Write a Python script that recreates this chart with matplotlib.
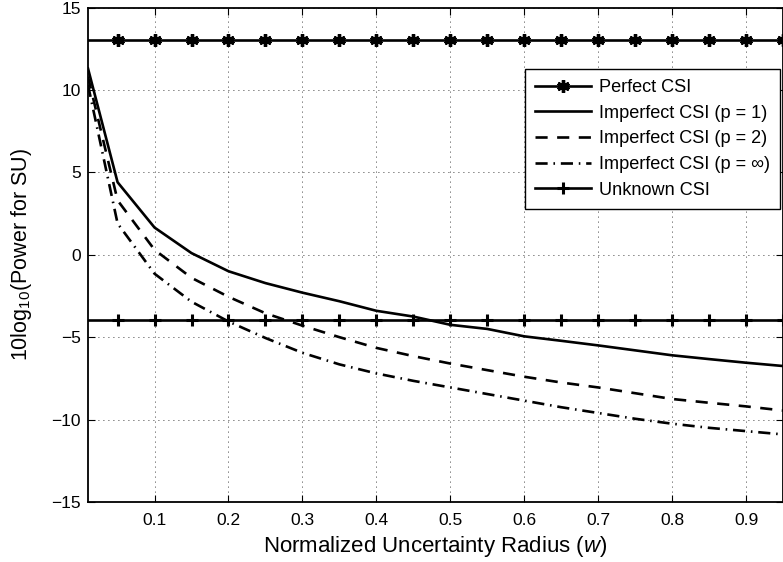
import matplotlib
matplotlib.use("Agg")
import matplotlib.pyplot as plt

plt.rcParams['font.family'] = ['Liberation Sans', 'DejaVu Sans']
plt.rcParams['mathtext.fontset'] = 'custom'
plt.rcParams['mathtext.rm'] = 'Liberation Sans'
plt.rcParams['mathtext.it'] = 'Liberation Sans:italic'

# Data
w = [0.01, 0.05, 0.1, 0.15, 0.2, 0.25, 0.3, 0.35, 0.4, 0.45, 0.5,
     0.55, 0.6, 0.65, 0.7, 0.75, 0.8, 0.85, 0.9, 0.95]
perfect = [13.0] * len(w)
unknown = [-3.95] * len(w)
p1 = [11.3, 4.4, 1.65, 0.1, -1.0, -1.72, -2.3, -2.82, -3.4, -3.75, -4.25,
      -4.5, -4.95, -5.22, -5.5, -5.8, -6.1, -6.33, -6.55, -6.75]
p2 = [10.8, 3.3, 0.3, -1.4, -2.55, -3.55, -4.3, -5.0, -5.65, -6.15, -6.6,
      -7.0, -7.4, -7.75, -8.05, -8.4, -8.75, -8.98, -9.2, -9.45]
pinf = [10.3, 1.9, -1.15, -2.85, -4.05, -5.05, -5.95, -6.65, -7.2, -7.65, -8.05,
        -8.45, -8.85, -9.25, -9.6, -9.95, -10.25, -10.5, -10.7, -10.9]

xticks = [0.1, 0.2, 0.3, 0.4, 0.5, 0.6, 0.7, 0.8, 0.9]
yticks = [-15, -10, -5, 0, 5, 10, 15]

fig = plt.figure(figsize=(7.83, 5.62), dpi=100)
ax = fig.add_axes([88/783, 1 - 502/562, 1 - 88/783, (502 - 7.5)/562])

lw = 1.9
ax.plot(w, perfect, color='black', lw=lw, marker=(6, 2, 0), markersize=9,
        markeredgewidth=2.4, markevery=slice(1, None), label='Perfect CSI')
ax.plot(w, p1, color='black', lw=lw, ls='-', label='Imperfect CSI (p = 1)')
ax.plot(w, p2, color='black', lw=lw, ls=(0, (4.6, 3.6)), label='Imperfect CSI (p = 2)')
ax.plot(w, pinf, color='black', lw=lw, ls=(0, (4.6, 2.2, 0.6, 2.2)), label='Imperfect CSI (p = ∞)')
ax.plot(w, unknown, color='black', lw=lw, marker='+', markersize=9,
        markeredgewidth=2.2, markevery=slice(1, None), label='Unknown CSI')

ax.set_xlim(0.01, 0.95)
ax.set_ylim(-15, 15)
ax.set_xticks(xticks)
ax.set_yticks(yticks)
ax.set_xticklabels([f'{t:.1f}' for t in xticks])
ax.grid(True, color='black', ls=(0, (1, 5)), lw=0.6)
ax.tick_params(direction='in', top=True, right=True, labelsize=12.5, length=5, width=0.8)
ax.tick_params(axis='x', pad=8)
ax.tick_params(axis='y', pad=5)
for s in ax.spines.values():
    s.set_linewidth(1.3)

ax.set_xlabel('Normalized Uncertainty Radius ($\\mathit{w}$)', fontsize=16, labelpad=4)
ax.set_ylabel('10log$_{10}$(Power for SU)', fontsize=15.5)
ax.yaxis.set_label_coords(-0.078, 0.5)

leg = ax.legend(loc='upper left', bbox_to_anchor=(525/783, 1 - 69.3/562),
                bbox_transform=fig.transFigure, borderaxespad=0,
                fancybox=False, framealpha=1, edgecolor='black', fontsize=13.1,
                handlelength=3.1, handletextpad=0.4, labelspacing=0.47,
                borderpad=0.55)
leg.get_frame().set_linewidth(1.0)

fig.savefig('out.png', dpi=100)
